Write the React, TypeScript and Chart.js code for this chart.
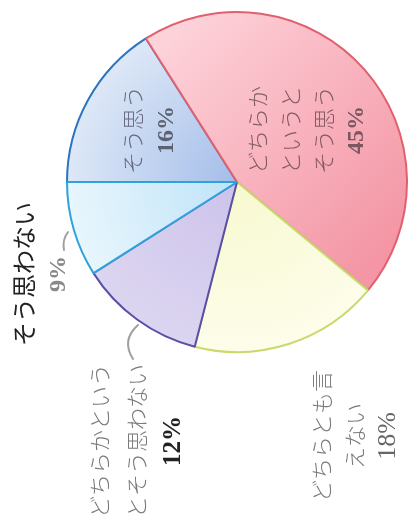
import React, { useEffect, useRef } from "react";
import { Chart, registerables } from "chart.js";

Chart.register(...registerables);

// ---- data ----
const categories = [
  "そう思う",
  "どちらかというとそう思う",
  "どちらとも言えない",
  "どちらかというとそう思わない",
  "そう思わない",
];
const values = [16, 45, 18, 12, 9];
const labelLines = [
  ["そう思う"],
  ["どちらか", "というと", "そう思う"],
  ["どちらとも言", "えない"],
  ["どちらかという", "とそう思わない"],
  ["そう思わない"],
];

// ---- styles ----
const borderColors = ["#2a74c0", "#e0606e", "#c8da6c", "#5a4ea6", "#2ea2dc"];
const innerColors = ["#a4bde9", "#fdd3da", "#f7f9cf", "#cdc3eb", "#bfe3f8"];
const outerColors = ["#dde8f7", "#f496a5", "#fdfdea", "#dcd5f0", "#e8f6fd"];

// label block offsets from pie centre (px at radius 170), line spacing, fonts, colours
const labelLayout = [
  { dx: -87, dy: -52, gap: 34, jp: "300 22px 'Noto Sans CJK JP'", jpColor: "rgba(70,70,90,0.75)", pct: "bold 24px 'Liberation Serif'", pctColor: "rgba(60,60,70,0.75)" },
  { dx: 70, dy: -52, gap: 33, jp: "300 22px 'Noto Sans CJK JP'", jpColor: "rgba(90,60,70,0.75)", pct: "bold 24px 'Liberation Serif'", pctColor: "rgba(80,60,70,0.75)" },
  { dx: 118, dy: 254, gap: 33, jp: "300 22px 'Noto Sans CJK JP'", jpColor: "#7a7a7a", pct: "26px 'Liberation Serif'", pctColor: "#666" },
  { dx: -100, dy: 259, gap: 37, jp: "300 22px 'Noto Sans CJK JP'", jpColor: "#7a7a7a", pct: "bold 25px 'Liberation Serif'", pctColor: "#222" },
  { dx: -196, dy: 92, gap: 35, jp: "24px 'Noto Sans CJK JP'", jpColor: "#222", pct: "bold 24px 'Liberation Serif'", pctColor: "#888" },
];

function pieGeom(chart: any) {
  const a = chart.chartArea;
  const cx = (a.left + a.right) / 2;
  const cy = (a.top + a.bottom) / 2;
  const r = Math.min(a.right - a.left, a.bottom - a.top) / 2 - 1;
  return { cx, cy, r };
}

const labelPlugin = {
  id: "rotatedLabels",
  afterDraw(chart: any) {
    const ctx = chart.ctx;
    const { cx, cy, r } = pieGeom(chart);
    const k = r / 170;
    ctx.save();
    // leader lines
    ctx.strokeStyle = "#a0a0a0";
    ctx.lineWidth = 2;
    ctx.lineCap = "round";
    ctx.beginPath();
    ctx.moveTo(cx - 173 * k, cy + 68 * k);
    ctx.quadraticCurveTo(cx - 175 * k, cy + 58 * k, cx - 169 * k, cy + 50 * k);
    ctx.stroke();
    ctx.beginPath();
    ctx.moveTo(cx - 99 * k, cy + 143 * k);
    ctx.quadraticCurveTo(cx - 116 * k, cy + 158 * k, cx - 104 * k, cy + 177 * k);
    ctx.stroke();

    ctx.textAlign = "center";
    ctx.textBaseline = "middle";
    values.forEach((v, i) => {
      const L = labelLayout[i];
      const lines = [...labelLines[i], `${v}%`];
      const bx = cx + L.dx * k;
      const by = cy + L.dy * k;
      ctx.save();
      ctx.translate(bx, by);
      ctx.rotate(-Math.PI / 2);
      lines.forEach((t, j) => {
        const isPct = j === lines.length - 1;
        ctx.font = isPct ? L.pct : L.jp;
        ctx.fillStyle = isPct ? L.pctColor : L.jpColor;
        const off = (j - (lines.length - 1) / 2) * L.gap;
        ctx.fillText(t, 0, off);
      });
      ctx.restore();
    });
    ctx.restore();
  },
};

function fill(c: any) {
  const chart = c.chart;
  const i = c.dataIndex ?? 0;
  if (!chart.chartArea) return innerColors[i];
  const { cx, cy, r } = pieGeom(chart);
  const ctx = chart.ctx;
  if (i === 1) {
    const g = ctx.createLinearGradient(cx - 0.3 * r, cy - r, cx + r, cy + 0.25 * r);
    g.addColorStop(0, innerColors[i]);
    g.addColorStop(1, outerColors[i]);
    return g;
  }
  const g = ctx.createRadialGradient(cx, cy, 0, cx, cy, r);
  g.addColorStop(0, innerColors[i]);
  g.addColorStop(1, outerColors[i]);
  return g;
}

export default function App() {
  const ref = useRef<HTMLCanvasElement>(null);
  useEffect(() => {
    if (!ref.current) return;
    const chart = new Chart(ref.current, {
      type: "pie",
      data: {
        labels: categories,
        datasets: [
          {
            data: values,
            backgroundColor: fill as any,
            borderColor: borderColors,
            borderWidth: 2,
          },
        ],
      },
      options: {
        responsive: false,
        animation: false,
        rotation: -90,
        layout: { padding: { left: 66, right: 0, top: 11, bottom: 177 } },
        plugins: { legend: { display: false }, tooltip: { enabled: false } },
      },
      plugins: [labelPlugin],
    });
    return () => chart.destroy();
  }, []);
  return (
    <div style={{ position: "absolute", left: 0, top: 0, width: 408, height: 530, background: "#fff" }}>
      <canvas ref={ref} width={408} height={530} style={{ display: "block" }} />
    </div>
  );
}
